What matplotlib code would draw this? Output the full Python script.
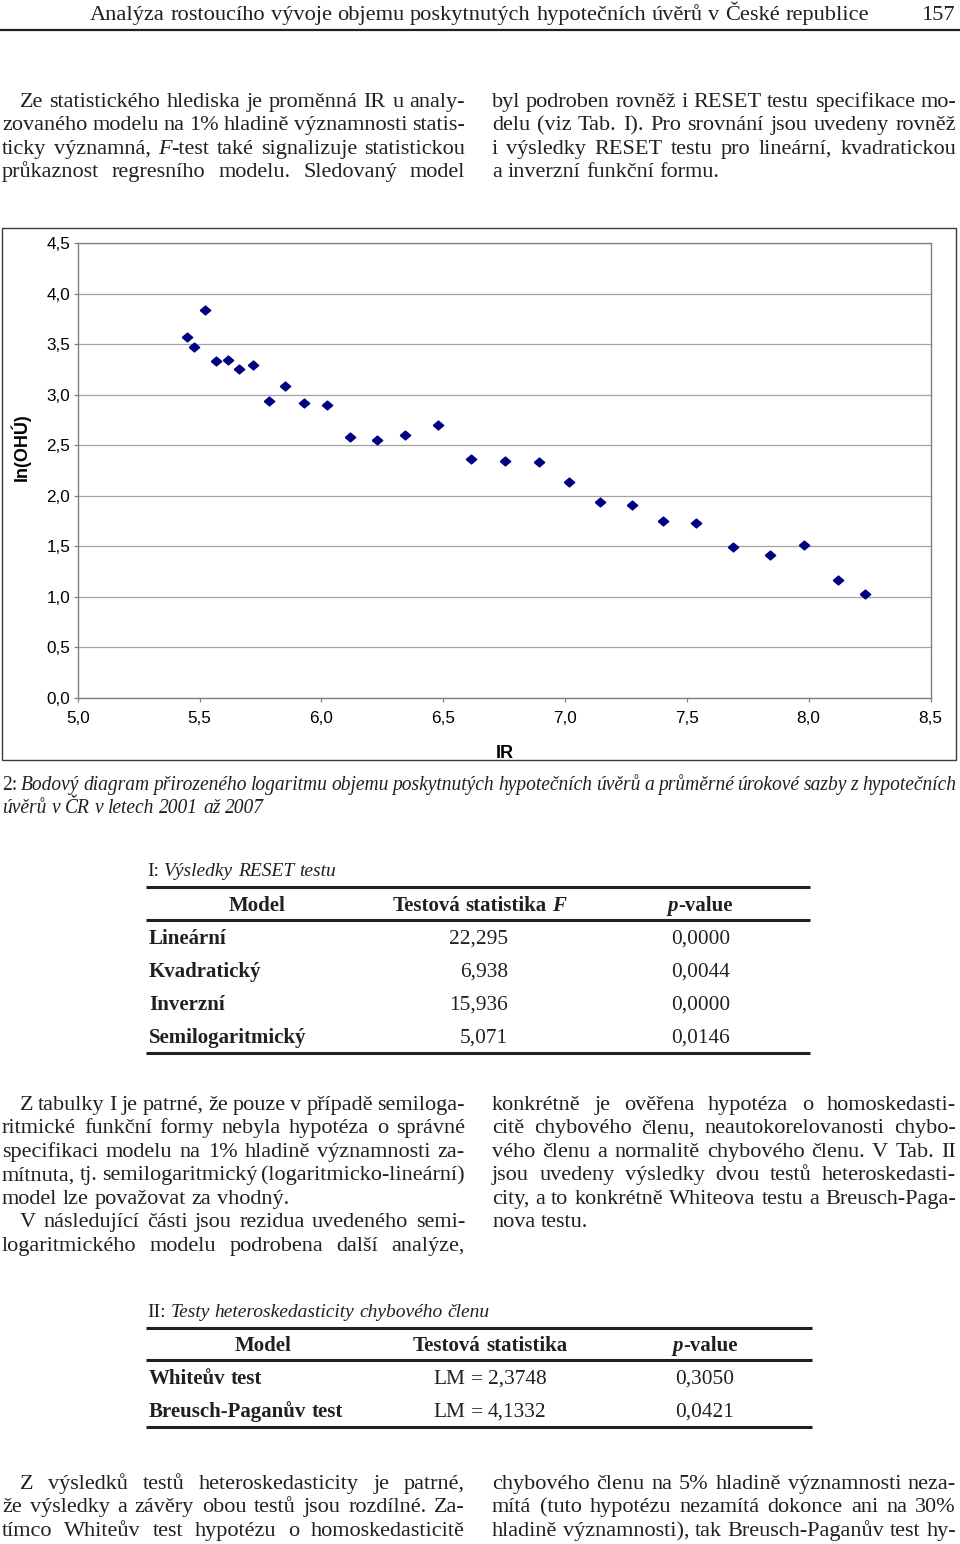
import matplotlib
matplotlib.use('Agg')
import matplotlib.pyplot as plt
from matplotlib.lines import Line2D
from matplotlib.patches import Rectangle
from matplotlib.ticker import FuncFormatter

# values (IR vs ln(OHU))
ir = [5.449, 5.479, 5.521, 5.566, 5.615, 5.660, 5.719, 5.784, 5.852, 5.929,
      6.023, 6.116, 6.227, 6.344, 6.478, 6.616, 6.753, 6.893, 7.015, 7.145,
      7.273, 7.401, 7.536, 7.688, 7.840, 7.979, 8.119, 8.231]
ln_ohu = [3.57, 3.47, 3.84, 3.34, 3.35, 3.26, 3.30, 2.94, 3.09, 2.92,
          2.90, 2.58, 2.55, 2.60, 2.70, 2.37, 2.35, 2.34, 2.14, 1.94,
          1.91, 1.75, 1.73, 1.49, 1.42, 1.51, 1.17, 1.03]
x_ticks = [5.0, 5.5, 6.0, 6.5, 7.0, 7.5, 8.0, 8.5]
y_ticks = [0.0, 0.5, 1.0, 1.5, 2.0, 2.5, 3.0, 3.5, 4.0, 4.5]

# table I
reset_models = ['Lineární', 'Kvadratický', 'Inverzní', 'Semilogaritmický']
reset_f = [22.295, 6.938, 15.936, 5.071]
reset_p = [0.0000, 0.0044, 0.0000, 0.0146]
# table II
het_tests = ['Whiteův test', 'Breusch-Paganův test']
het_lm = [2.3748, 4.1332]
het_p = [0.3050, 0.0421]

# page text, one entry per printed line; '*' toggles italic
header = 'Analýza rostoucího vývoje objemu poskytnutých hypotečních úvěrů v České republice'
page_no = '157'
par1_left = ['Ze statistického hlediska je proměnná IR u analy-',
             'zovaného modelu na 1% hladině významnosti statis-',
             'ticky významná, *F*-test také signalizuje statistickou',
             'průkaznost regresního modelu. Sledovaný model']
par1_right = ['byl podroben rovněž i RESET testu specifikace mo-',
              'delu (viz Tab. I). Pro srovnání jsou uvedeny rovněž',
              'i výsledky RESET testu pro lineární, kvadratickou',
              'a inverzní funkční formu.']
caption = ['*2:* Bodový diagram přirozeného logaritmu objemu poskytnutých hypotečních úvěrů a průměrné úrokové sazby z hypotečních',
           'úvěrů v ČR v letech 2001 až 2007']
par2_left = ['Z tabulky I je patrné, že pouze v případě semiloga-',
             'ritmické funkční formy nebyla hypotéza o správné',
             'specifikaci modelu na 1% hladině významnosti za-',
             'mítnuta, tj. semilogaritmický (logaritmicko-lineární)',
             'model lze považovat za vhodný.',
             'V následující části jsou rezidua uvedeného semi-',
             'logaritmického modelu podrobena další analýze,']
par2_right = ['konkrétně je ověřena hypotéza o homoskedasti-',
              'citě chybového členu, neautokorelovanosti chybo-',
              'vého členu a normalitě chybového členu. V Tab. II',
              'jsou uvedeny výsledky dvou testů heteroskedasti-',
              'city, a to konkrétně Whiteova testu a Breusch-Paga-',
              'nova testu.']
par3_left = ['Z výsledků testů heteroskedasticity je patrné,',
             'že výsledky a závěry obou testů jsou rozdílné. Za-',
             'tímco Whiteův test hypotézu o homoskedasticitě']
par3_right = ['chybového členu na 5% hladině významnosti neza-',
              'mítá (tuto hypotézu nezamítá dokonce ani na 30%',
              'hladině významnosti), tak Breusch-Paganův test hy-']

W, H = 960, 1544
INK = '#231f20'
SERIF = 'Liberation Serif'
SANS = 'Liberation Sans'

fig = plt.figure(figsize=(W / 100, H / 100), dpi=100)
R = fig.canvas.get_renderer()


def fy(y):
    return 1 - y / H


def comma(v, nd):
    return ('%.*f' % (nd, v)).replace('.', ',')


def tw(s, size, weight='normal', style='normal', family=SERIF):
    t = fig.text(0, 0, s, size=size, weight=weight, style=style, family=family)
    w = t.get_window_extent(renderer=R).width
    t.remove()
    return w


def fit(s, target, **kw):
    return 10 * target / tw(s, 10, **kw)


def put(line, x0, yb, size, x1=None, align='left', weight='normal',
        style='normal', color=INK):
    alt = 'normal' if style == 'italic' else 'italic'
    words = []
    flip = False
    for word in line.split(' '):
        wd = []
        for i, p in enumerate(word.split('*')):
            if i:
                flip = not flip
            if p:
                wd.append((p, alt if flip else style))
        words.append(wd)

    def measure(sz):
        ws = [[tw(p, sz, weight, st) for p, st in wd] for wd in words]
        sp = tw('a a', sz, weight, style) - tw('aa', sz, weight, style)
        return ws, sp

    ws, sp = measure(size)
    total = sum(sum(w) for w in ws)
    n = len(words)
    if x1 is not None and n > 1:
        gap = (x1 - x0 - total) / (n - 1)
        while gap < 0.55 * sp:
            size *= 0.985
            ws, sp = measure(size)
            total = sum(sum(w) for w in ws)
            gap = (x1 - x0 - total) / (n - 1)
    else:
        gap = sp
    full = total + gap * (n - 1)
    x = x0
    if align == 'center':
        x = x0 - full / 2
    elif align == 'right':
        x = x0 - full
    for wd, wl in zip(words, ws):
        for (p, st), w in zip(wd, wl):
            fig.text(x / W, fy(yb), p, size=size, weight=weight, style=st,
                     family=SERIF, color=color, ha='left', va='baseline')
            x += w
        x += gap


def column(lines, x0, x1, yb0, size, indent=(), last=(), step=23.45):
    for i, ln in enumerate(lines):
        xs = 20 if i in indent else x0
        put(ln, xs, yb0 + i * step, size, x1=None if i in last else x1)


def rule(x0, x1, y, lw):
    fig.add_artist(Line2D([x0 / W, x1 / W], [fy(y), fy(y)], lw=lw,
                          color=INK, solid_capstyle='butt'))


body = (fit('a inverzní funkční formu.', 230) + fit('model lze považovat za vhodný.', 286)
        + fit('nova testu.', 96)) / 3

# running header
hs = fit(header, 778)
put(header, 90, 20, hs)
put(page_no, 956, 20, hs, align='right')
rule(0, 960, 30, 1.6)

# first paragraphs
column(par1_left, 2, 465, 107, body, indent=(0,))
column(par1_right, 492, 956, 107, body, last=(3,))

# scatter chart
fig.add_artist(Rectangle((2 / W, fy(760)), 954 / W, 532 / H, fill=False,
                         lw=1.0, ec='#3a3a3a', transform=fig.transFigure))
ax = fig.add_axes([77.7 / W, fy(698), (930.5 - 77.7) / W, (698 - 243.3) / H])
diamond = [(-1, 0), (0, 0.85), (1, 0), (0, -0.85), (-1, 0)]
ax.plot(ir, ln_ohu, ls='none', marker=diamond, ms=7.5, color='#000080',
        mec='#000080', zorder=3)
ax.set_xlim(5, 8.5)
ax.set_ylim(0, 4.5)
ax.set_xticks(x_ticks)
ax.set_yticks(y_ticks)
fmt = FuncFormatter(lambda v, _: comma(v, 1))
ax.xaxis.set_major_formatter(fmt)
ax.yaxis.set_major_formatter(fmt)
ax.yaxis.grid(True, color='#a3a3a3', lw=0.9)
ax.set_axisbelow(True)
for s in ax.spines.values():
    s.set_color('#808080')
    s.set_linewidth(1.0)
ax.tick_params(length=3, width=0.9, color='#808080', labelsize=12.3)
ax.tick_params(axis='x', pad=6)
ax.tick_params(axis='y', pad=2.5)
for lab in ax.get_xticklabels() + ax.get_yticklabels():
    lab.set_family(SANS)
ax.set_xlabel('IR', family=SANS, weight='bold', size=13)
ax.set_ylabel('ln(OHÚ)', family=SANS, weight='bold', size=13)
ax.xaxis.set_label_coords((505 - 77.7) / (930.5 - 77.7), -(745 - 698) / (698 - 243.3))
ax.yaxis.set_label_coords(-(77.7 - 31) / (930.5 - 77.7), (698 - 447) / (698 - 243.3))

# caption
cap = fit(caption[1], 264, style='italic')
put(caption[0], 2, 790, cap, x1=956, style='italic')
put(caption[1], 2, 813, cap, style='italic')

# table I
tb = fit('Semilogaritmický', 158, weight='bold')
tn = fit('22,295', 59)
tt = fit('Výsledky RESET testu', 172, style='italic')
put('I: *Výsledky RESET testu*', 147, 876, tt)
rule(146, 810, 886.5, 2.2)
put('Model', 257, 911, tb, align='center', weight='bold')
put('Testová statistika *F*', 479, 911, tb, align='center', weight='bold')
put('*p*-value', 700, 911, tb, align='center', weight='bold')
rule(146, 810, 919.5, 2.2)
for i, (m, f, p) in enumerate(zip(reset_models, reset_f, reset_p)):
    yb = 944 + i * 33
    put(m, 149, yb, tb, weight='bold')
    put(comma(f, 3), 508, yb, tn, align='right')
    put(comma(p, 4), 730, yb, tn, align='right')
rule(146, 810, 1052.5, 2.2)

# second paragraphs
column(par2_left, 2, 465, 1110, body, indent=(0, 5), last=(4,))
column(par2_right, 492, 956, 1110, body, last=(5,))

# table II
put('II: *Testy heteroskedasticity chybového členu*', 147, 1317, tt)
rule(146, 812, 1327.5, 2.2)
put('Model', 263, 1351, tb, align='center', weight='bold')
put('Testová statistika', 490, 1351, tb, align='center', weight='bold')
put('*p*-value', 705, 1351, tb, align='center', weight='bold')
rule(146, 812, 1359.5, 2.2)
for i, (m, lm, p) in enumerate(zip(het_tests, het_lm, het_p)):
    yb = 1384 + i * 33
    put(m, 149, yb, tb, weight='bold')
    put('LM = ' + comma(lm, 4), 490, yb, tn, align='center')
    put(comma(p, 4), 705, yb, tn, align='center')
rule(146, 812, 1426.5, 2.2)

# closing paragraphs
column(par3_left, 2, 465, 1489, body, indent=(0,))
column(par3_right, 492, 956, 1489, body)

fig.savefig('out.png', dpi=100)
